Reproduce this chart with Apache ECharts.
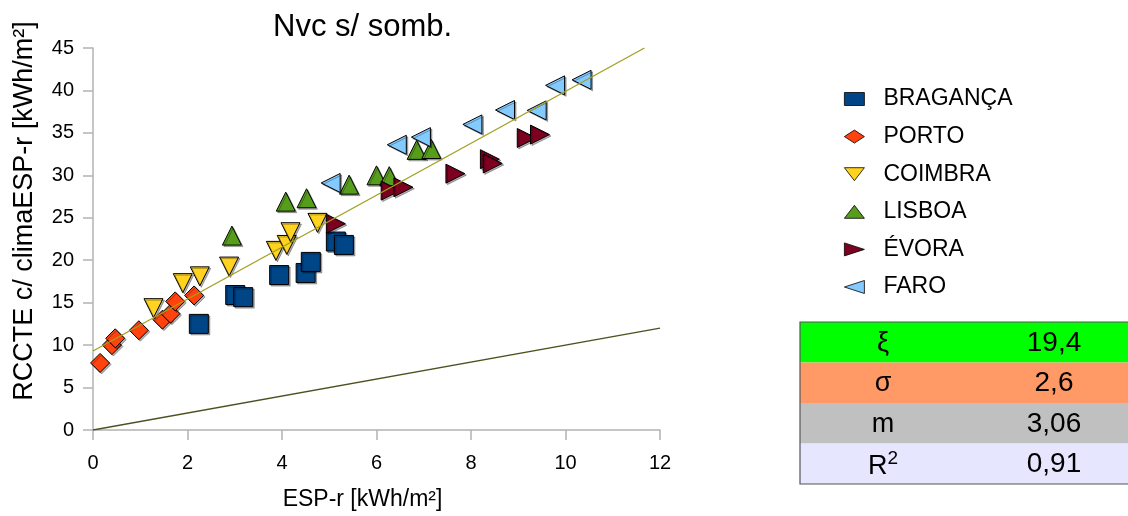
<!DOCTYPE html>
<html><head><meta charset="utf-8">
<script src="https://cdn.jsdelivr.net/npm/echarts@6/dist/echarts.min.js"></script>
<style>html,body{margin:0;padding:0;background:#fff}#c{width:1128px;height:516px}</style>
</head><body><div id="c"></div><script>
// ---- data ----
const seriesNames = ['BRAGANÇA', 'PORTO', 'COIMBRA', 'LISBOA', 'ÉVORA', 'FARO'];
const bragancaX = [2.24, 3.01, 3.18, 3.94, 4.50, 4.61, 5.14, 5.31];
const bragancaY = [12.5, 15.9, 15.65, 18.25, 18.5, 19.8, 22.2, 21.8];
const portoX = [0.15, 0.40, 0.47, 0.97, 1.47, 1.64, 1.74, 2.14];
const portoY = [7.9, 10.0, 10.8, 11.75, 13.0, 13.7, 15.15, 15.85];
const coimbraX = [1.28, 1.90, 2.26, 2.88, 3.87, 4.10, 4.18, 4.75];
const coimbraY = [14.35, 17.3, 18.1, 19.25, 21.1, 21.8, 23.3, 24.4];
const lisboaX = [2.94, 4.08, 4.52, 5.42, 6.00, 6.27, 6.85, 7.16];
const lisboaY = [22.9, 26.9, 27.3, 28.9, 30.0, 29.9, 33.0, 33.1];
const evoraX = [5.14, 6.30, 6.57, 7.67, 8.40, 8.46, 9.18, 9.46];
const evoraY = [24.3, 28.2, 28.6, 30.2, 31.9, 31.4, 34.4, 34.8];
const faroX = [5.03, 6.43, 6.94, 8.03, 8.72, 9.39, 9.78, 10.34];
const faroY = [29.1, 33.6, 34.5, 36.0, 37.7, 37.65, 40.6, 41.25];
const fitLineX = [0, 11.67];
const fitLineY = [9.3, 45];
const refLineX = [0, 12];
const refLineY = [0, 12];
const xMin = 0, xMax = 12, xStep = 2;
const yMin = 0, yMax = 45, yStep = 5;
const titleText = 'Nvc s/ somb.';
const xName = 'ESP-r [kWh/m²]';
const yName = 'RCCTE c/ climaESP-r [kWh/m²]';
const tableLabels = ['ξ', 'σ', 'm', 'R2'];
const tableValues = ['19,4', '2,6', '3,06', '0,91'];

// ---- styling ----
const colors = ['#004586', '#ff420e', '#ffd320', '#579d1c', '#7e0021', '#83caff'];
const symbols = ['rect', 'diamond', 'triangle', 'triangle', 'triangle', 'triangle'];
const rotates = [0, 0, 180, 0, -90, 90];
const legendIcons = ['rect', 'path://M1,0L2,1L1,2L0,1Z', 'path://M0,0L2,0L1,2Z', 'path://M1,0L2,2L0,2Z',
  'path://M0,0L2,1L0,2Z', 'path://M2,0L0,1L2,2Z'];
const sizes = [19, 19, 19, 19, 19, 19];
const xs = [bragancaX, portoX, coimbraX, lisboaX, evoraX, faroX];
const ys = [bragancaY, portoY, coimbraY, lisboaY, evoraY, faroY];
const font = '"Liberation Sans", Arial, sans-serif';
const rowColors = ['#00ff00', '#ff9966', '#c0c0c0', '#e6e6ff'];

const zip = (a, b) => a.map((v, i) => [v, b[i]]);

const series = seriesNames.map((n, i) => ({
  name: n, type: 'scatter', data: zip(xs[i], ys[i]),
  symbol: symbols[i], symbolRotate: rotates[i], symbolSize: sizes[i],
  itemStyle: { color: colors[i], opacity: 1, borderColor: '#000', borderWidth: 1,
    shadowColor: 'rgba(0,0,0,0.3)', shadowOffsetX: 1.5, shadowOffsetY: 1.5, shadowBlur: 0 },
  emphasis: { disabled: true }, z: 2
}));
series.push({ name: 'fit', type: 'line', data: zip(fitLineX, fitLineY), symbol: 'none', silent: true,
  lineStyle: { color: '#a0a020', width: 1.3 }, z: 3 });
series.push({ name: 'ref', type: 'line', data: zip(refLineX, refLineY), symbol: 'none', silent: true,
  lineStyle: { color: '#4f5020', width: 1.3 }, z: 3 });

// table graphic
const tX = 800, tY = 322, tW = 330, rowH = 40.5;
const tableEls = [];
tableLabels.forEach((lab, i) => {
  tableEls.push({ type: 'rect', shape: { x: tX, y: tY + i * rowH, width: tW, height: rowH },
    style: { fill: rowColors[i] }, silent: true });
});
tableEls.push({ type: 'rect', shape: { x: tX, y: tY, width: tW, height: rowH * 4 },
  style: { fill: 'none', stroke: '#555', lineWidth: 1.2 }, silent: true });
tableLabels.forEach((lab, i) => {
  const cy = tY + i * rowH + rowH / 2 + 1;
  const isR = lab === 'R2';
  tableEls.push({ type: 'text', x: 883, y: cy, silent: true,
    style: isR ? {
      text: '{b|R}{s|2}', align: 'center', verticalAlign: 'middle',
      rich: { b: { fontSize: 27, fontFamily: font, fill: '#000', verticalAlign: 'bottom', lineHeight: 30 },
              s: { fontSize: 19, fontFamily: font, fill: '#000', verticalAlign: 'top', lineHeight: 30, padding: [0, 0, 8, 0] } }
    } : { text: lab, align: 'center', verticalAlign: 'middle', fontSize: 27, fontFamily: font, fill: '#000' } });
  tableEls.push({ type: 'text', x: 1054, y: cy, silent: true,
    style: { text: tableValues[i], align: 'center', verticalAlign: 'middle', fontSize: 28, fontFamily: font, fill: '#000' } });
});

const option = {
  animation: false,
  backgroundColor: '#fff',
  title: { text: titleText, left: 268, top: 7,
    textStyle: { fontSize: 31, fontWeight: 'normal', fontFamily: font, color: '#000' } },
  legend: { data: seriesNames.map((n, i) => ({ name: n, icon: legendIcons[i] })),
    orient: 'vertical', left: 844, top: 87, itemWidth: 20, itemHeight: 13,
    itemGap: 13.6, padding: 0, selectedMode: false, symbolKeepAspect: false,
    itemStyle: { borderColor: '#000', borderWidth: 0.8, shadowColor: 'transparent', shadowOffsetX: 0, shadowOffsetY: 0 },
    textStyle: { fontSize: 23, lineHeight: 24, fontFamily: font, color: '#000', padding: [0, 0, 0, 14] } },
  grid: { left: 93, right: 468, top: 48, bottom: 84, containLabel: false },
  xAxis: { type: 'value', min: xMin, max: xMax, interval: xStep,
    name: xName, nameLocation: 'middle', nameGap: 58,
    nameTextStyle: { fontSize: 23, fontFamily: font, color: '#000', padding: [0, 28, 0, 0] },
    axisLine: { show: true, onZero: false, lineStyle: { color: '#b3b3b3', width: 1.5 } },
    axisTick: { show: true, inside: false, length: 10, lineStyle: { color: '#b3b3b3', width: 1.5 } },
    axisLabel: { fontSize: 20, fontFamily: font, color: '#000', margin: 23 },
    splitLine: { show: false } },
  yAxis: { type: 'value', min: yMin, max: yMax, interval: yStep,
    name: yName, nameLocation: 'middle', nameGap: 55,
    nameTextStyle: { fontSize: 27, fontFamily: font, color: '#000', padding: [0, 0, 0, 56] },
    axisLine: { show: true, onZero: false, lineStyle: { color: '#b3b3b3', width: 1.5 } },
    axisTick: { show: true, inside: false, length: 10, lineStyle: { color: '#b3b3b3', width: 1.5 } },
    axisLabel: { fontSize: 20, fontFamily: font, color: '#000', margin: 19 },
    splitLine: { show: false } },
  graphic: tableEls,
  series: series
};
const chart = echarts.init(document.getElementById('c'), null, { renderer: 'canvas' });
chart.setOption(option);
</script></body></html>
